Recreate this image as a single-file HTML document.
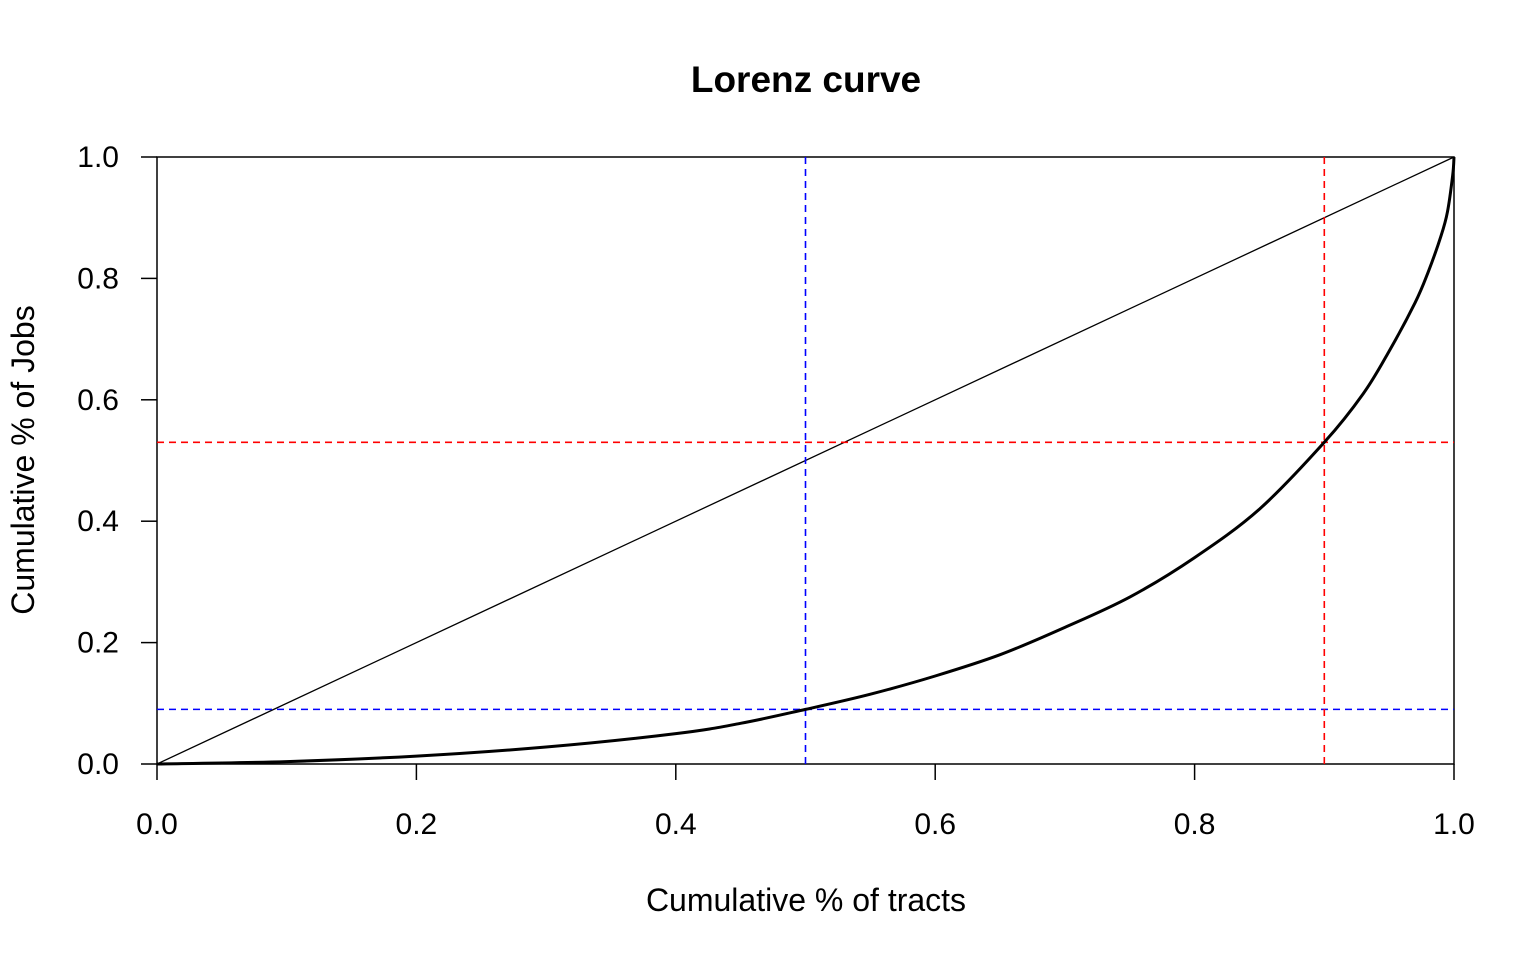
<!DOCTYPE html>
<html><head><meta charset="utf-8"><style>
html,body{margin:0;padding:0;background:#fff;}
svg{display:block;font-family:"Liberation Sans",Arial,sans-serif;}
</style></head><body>
<svg id="chart" width="1536" height="960">
<text x="806" y="92" text-anchor="middle" font-size="37" font-weight="bold">Lorenz curve</text>
<text x="806" y="911" text-anchor="middle" font-size="32">Cumulative % of tracts</text>
<text transform="translate(34,460) rotate(-90)" text-anchor="middle" font-size="32">Cumulative % of Jobs</text>
<g id="plot"></g>
</svg>
<script>
const xTicks=[0,0.2,0.4,0.6,0.8,1.0];
const yTicks=[0,0.2,0.4,0.6,0.8,1.0];
const tickLabels=["0.0","0.2","0.4","0.6","0.8","1.0"];
const curveX=[0,0.1,0.2,0.3,0.4,0.45,0.5,0.55,0.6,0.65,0.7,0.75,0.8,0.85,0.9,0.93,0.95,0.97,0.98,0.99,0.995,0.999,1.0];
const curveY=[0,0.004,0.013,0.028,0.05,0.067,0.09,0.115,0.145,0.18,0.225,0.275,0.34,0.42,0.53,0.61,0.68,0.76,0.81,0.87,0.91,0.97,1.0];
const refX=[0.5,0.9];
const refY=[0.09,0.53];
const refColors=["#0000ff","#ff0000"];
const X0=157,X1=1454,Y0=764,Y1=157;
const sx=v=>X0+(X1-X0)*v, sy=v=>Y0-(Y0-Y1)*v;
const NS="http://www.w3.org/2000/svg";
const g=document.getElementById('plot');
function mk(t,a){const e=document.createElementNS(NS,t);for(const k in a)e.setAttribute(k,a[k]);g.appendChild(e);return e;}
let box=mk('rect',{x:X0,y:Y1,width:X1-X0,height:Y0-Y1,fill:'none',stroke:'#000','stroke-width':1.5});


xTicks.forEach((v,i)=>{
 let l=mk('line',{x1:sx(v),x2:sx(v),y1:Y0,y2:Y0+16,stroke:'#000','stroke-width':1.5});
 
 
 let t=mk('text',{x:sx(v),y:834,'text-anchor':'middle','font-size':30});t.textContent=tickLabels[i];
 
 
});
yTicks.forEach((v,i)=>{
 let l=mk('line',{x1:X0-16,x2:X0,y1:sy(v),y2:sy(v),stroke:'#000','stroke-width':1.5});
 
 
 let t=mk('text',{x:119,y:sy(v)+10,'text-anchor':'end','font-size':30});t.textContent=tickLabels[i];
 
 
});
let eq=mk('line',{x1:sx(0),y1:sy(0),x2:sx(1),y2:sy(1),stroke:'#000','stroke-width':1.3});


refX.forEach((v,i)=>{
 let a=mk('line',{x1:sx(v),x2:sx(v),y1:Y1,y2:Y0,stroke:refColors[i],'stroke-width':1.6,'stroke-dasharray':'7 5'});
 
 
 let b=mk('line',{x1:X0,x2:X1,y1:sy(refY[i]),y2:sy(refY[i]),stroke:refColors[i],'stroke-width':1.6,'stroke-dasharray':'7 5'});
 
 
});
const P=curveX.map((v,i)=>[sx(v),sy(curveY[i])]);
let d='M'+P[0][0]+','+P[0][1];
for(let i=0;i<P.length-1;i++){
 const p0=P[Math.max(0,i-1)],p1=P[i],p2=P[i+1],p3=P[Math.min(P.length-1,i+2)];
 const c1=[p1[0]+(p2[0]-p0[0])/6,p1[1]+(p2[1]-p0[1])/6];
 const c2=[p2[0]-(p3[0]-p1[0])/6,p2[1]-(p3[1]-p1[1])/6];
 d+=`C${c1[0].toFixed(1)},${c1[1].toFixed(1)} ${c2[0].toFixed(1)},${c2[1].toFixed(1)} ${p2[0].toFixed(1)},${p2[1].toFixed(1)}`;
}
let c=mk('path',{d:d,fill:'none',stroke:'#000','stroke-width':3});


</script>
</body></html>
